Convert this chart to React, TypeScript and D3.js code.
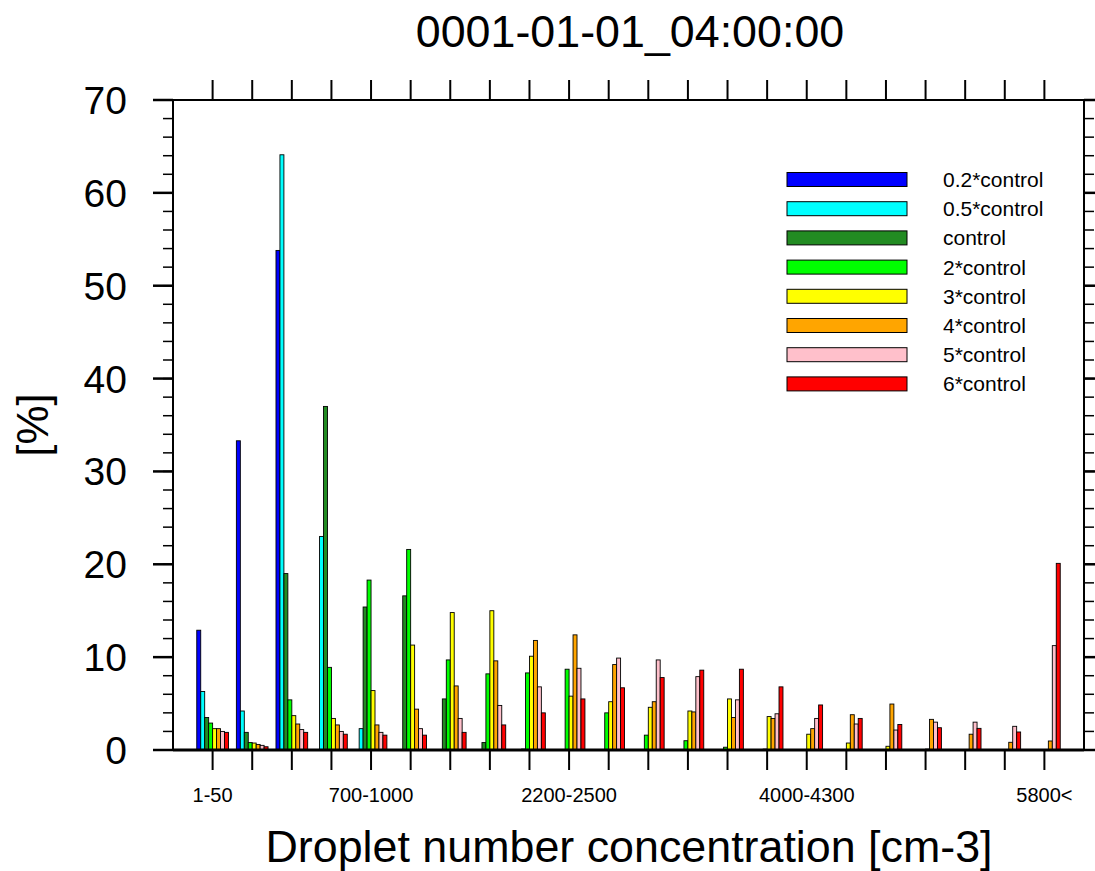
import React from "react";
import * as d3 from "d3";

const categories = [
  "1-50", "50-100", "100-400", "400-700", "700-1000", "1000-1300", "1300-1600",
  "1600-1900", "1900-2200", "2200-2500", "2500-2800", "2800-3100", "3100-3400",
  "3400-3700", "3700-4000", "4000-4300", "4300-4600", "4600-4900", "4900-5200",
  "5200-5500", "5500-5800", "5800<",
];
const labeledCategories = ["1-50", "700-1000", "2200-2500", "4000-4300", "5800<"];

const seriesNames = [
  "0.2*control", "0.5*control", "control", "2*control",
  "3*control", "4*control", "5*control", "6*control",
];
const seriesColors = [
  "#0000FF", "#00FFFF", "#228B22", "#00FF00",
  "#FFFF00", "#FFA500", "#FFC0CB", "#FF0000",
];

const s02 = [12.9, 33.3, 53.8, 0, 0, 0, 0, 0, 0, 0, 0, 0, 0, 0, 0, 0, 0, 0, 0, 0, 0, 0];
const s05 = [6.3, 4.2, 64.1, 23.0, 2.3, 0, 0, 0, 0, 0, 0, 0, 0, 0, 0, 0, 0, 0, 0, 0, 0, 0];
const sCtl = [3.5, 1.9, 19.0, 37.0, 15.4, 16.6, 5.5, 0.8, 0.1, 0, 0, 0, 0, 0, 0, 0, 0, 0, 0, 0, 0, 0];
const s2 = [2.9, 0.8, 5.4, 8.9, 18.3, 21.6, 9.7, 8.2, 8.3, 8.7, 4.0, 1.6, 1.0, 0.3, 0.1, 0, 0, 0, 0, 0, 0, 0];
const s3 = [2.3, 0.75, 3.7, 3.4, 6.4, 11.3, 14.8, 15.0, 10.1, 5.8, 5.2, 4.6, 4.2, 5.5, 3.6, 1.7, 0.75, 0.4, 0.1, 0, 0, 0];
const s4 = [2.3, 0.6, 2.8, 2.7, 2.7, 4.4, 6.9, 9.6, 11.8, 12.4, 9.2, 5.2, 4.1, 3.5, 3.4, 2.3, 3.8, 4.95, 3.3, 1.7, 0.83, 0.97];
const s5 = [2.0, 0.5, 2.2, 2.0, 1.9, 2.3, 3.4, 4.8, 6.8, 8.8, 9.9, 9.7, 7.9, 5.4, 3.9, 3.4, 2.8, 2.15, 3.0, 3.0, 2.55, 11.24];
const s6 = [1.9, 0.35, 1.9, 1.7, 1.6, 1.6, 1.9, 2.7, 4.0, 5.5, 6.7, 7.8, 8.6, 8.7, 6.8, 4.85, 3.4, 2.75, 2.4, 2.33, 1.94, 20.1];
const seriesValues = [s02, s05, sCtl, s2, s3, s4, s5, s6];

const yMajorTicks = [0, 10, 20, 30, 40, 50, 60, 70];
const yMinorTicks = d3.range(0, 71, 2);

const title = "0001-01-01_04:00:00";
const xTitle = "Droplet number concentration [cm-3]";
const yTitle = "[%]";

export default function App() {
  const W = 1095, H = 871;
  const left = 173, right = 1084, top = 100, bottom = 750;
  const x = d3.scaleLinear().domain([0, categories.length + 1]).range([left, right]);
  const y = d3.scaleLinear().domain([0, 70]).range([bottom, top]);
  const barW = 0.1;
  const nS = seriesNames.length;
  const font = "'Liberation Sans', Arial, Helvetica, sans-serif";

  return (
    <svg width={W} height={H} style={{ position: "absolute", left: 0, top: 0, background: "#fff" }} fontFamily={font}>
      <rect x={0} y={0} width={W} height={H} fill="#fff" />
      {/* bars */}
      {seriesValues.map((vals, j) =>
        vals.map((v, i) => {
          if (v <= 0) return null;
          const x0 = x(i + 1 + (j - nS / 2) * barW);
          const x1 = x(i + 1 + (j - nS / 2 + 1) * barW);
          return (
            <rect key={`${j}-${i}`} x={x0} y={y(v)} width={x1 - x0} height={y(0) - y(v)}
              fill={seriesColors[j]} stroke="#000" strokeWidth={0.9} />
          );
        })
      )}
      {/* frame */}
      <rect x={left} y={top} width={right - left} height={bottom - top} fill="none" stroke="#000" strokeWidth={2} />
      <line x1={left} x2={right} y1={bottom} y2={bottom} stroke="#000" strokeWidth={3} />
      {/* y ticks */}
      {yMinorTicks.map((t) => (
        <g key={`ym${t}`}>
          <line x1={left - 10} x2={left} y1={y(t)} y2={y(t)} stroke="#000" strokeWidth={1.5} />
          <line x1={right} x2={right + 10} y1={y(t)} y2={y(t)} stroke="#000" strokeWidth={1.5} />
        </g>
      ))}
      {yMajorTicks.map((t) => (
        <g key={`yM${t}`}>
          <line x1={left - 20} x2={left} y1={y(t)} y2={y(t)} stroke="#000" strokeWidth={2.5} />
          <line x1={right} x2={right + 20} y1={y(t)} y2={y(t)} stroke="#000" strokeWidth={2.5} />
          <text x={127} y={y(t) + 14} textAnchor="end" fontSize={39} fill="#000">{t}</text>
        </g>
      ))}
      {/* x ticks */}
      {categories.map((c, i) => (
        <g key={`x${i}`}>
          <line x1={x(i + 1)} x2={x(i + 1)} y1={bottom} y2={bottom + 20} stroke="#000" strokeWidth={2} />
          <line x1={x(i + 1)} x2={x(i + 1)} y1={top} y2={top - 20} stroke="#000" strokeWidth={2} />
          {labeledCategories.includes(c) && (
            <text x={x(i + 1)} y={802} textAnchor="middle" fontSize={20} fill="#000">{c}</text>
          )}
        </g>
      ))}
      {/* titles */}
      <text x={630} y={47} textAnchor="middle" fontSize={44.8} fill="#000">{title}</text>
      <text x={629} y={862} textAnchor="middle" fontSize={44.8} fill="#000">{xTitle}</text>
      <text transform={`translate(48,425) rotate(-90)`} textAnchor="middle" fontSize={44} fill="#000">{yTitle}</text>
      {/* legend */}
      {seriesNames.map((n, j) => (
        <g key={`lg${j}`}>
          <rect x={787} y={172.5 + j * 29.2} width={120} height={14} fill={seriesColors[j]} stroke="#000" strokeWidth={1} />
          <text x={943} y={187 + j * 29.2} fontSize={21} fill="#000">{n}</text>
        </g>
      ))}
    </svg>
  );
}
